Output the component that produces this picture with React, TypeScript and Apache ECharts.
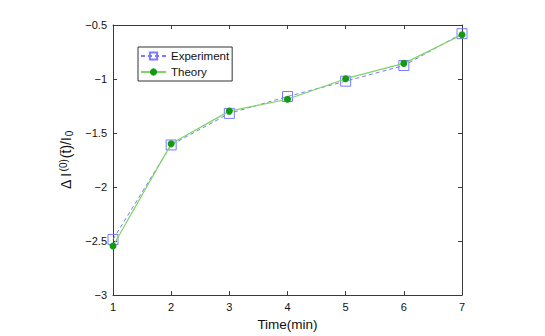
import React, { useEffect, useRef } from "react";
import * as echarts from "echarts";

const xValues = [1, 2, 3, 4, 5, 6, 7];
const experiment = [-2.485, -1.61, -1.318, -1.162, -1.02, -0.875, -0.58];
const theory = [-2.545, -1.6, -1.297, -1.187, -0.997, -0.855, -0.59];
const seriesNames = ["Experiment", "Theory"];

const FONT = "Liberation Sans, Arial, Helvetica, sans-serif";
const AXIS = "#3a3a3a";
const minus = (v: number) => String(v).replace("-", "\u2212");

export default function App() {
  const ref = useRef<HTMLDivElement>(null);
  useEffect(() => {
    if (!ref.current) return;
    const chart = echarts.init(ref.current, null, { renderer: "svg" });
    const axisCommon = {
      axisLine: { show: true, lineStyle: { color: AXIS, width: 1 } },
      axisTick: { show: true, inside: true, length: 4, lineStyle: { color: AXIS } },
      splitLine: { show: false },
    };
    chart.setOption({
      animation: false,
      backgroundColor: "#ffffff",
      textStyle: { fontFamily: FONT },
      grid: { left: 113, right: 83, top: 25, bottom: 38, containLabel: false },
      legend: {
        data: seriesNames,
        orient: "vertical",
        left: 138,
        top: 47,
        backgroundColor: "#ffffff",
        borderColor: "#333333",
        borderWidth: 1,
        borderRadius: 0,
        padding: [3, 3, 3, 2],
        itemGap: 4,
        itemWidth: 25,
        itemHeight: 9,
        textStyle: { fontFamily: FONT, fontSize: 11.5, color: "#111" },
      },
      xAxis: [
        {
          type: "value",
          min: 1,
          max: 7,
          interval: 1,
          name: "Time(min)",
          nameLocation: "middle",
          nameGap: 14,
          nameTextStyle: { fontFamily: FONT, fontSize: 13.5, color: "#111" },
          axisLabel: { fontFamily: FONT, fontSize: 11, color: "#111", margin: 6, formatter: (v: number) => minus(v) },
          ...axisCommon,
        },
        {
          type: "value",
          min: 1,
          max: 7,
          interval: 1,
          position: "top",
          axisLabel: { show: false },
          ...axisCommon,
        },
      ],
      yAxis: [
        {
          type: "value",
          min: -3,
          max: -0.5,
          interval: 0.5,
          name: "Δ I{sup|(0)}(t\u0304)/I{sub|0}",
          nameLocation: "middle",
          nameRotate: 90,
          nameGap: 33,
          nameTextStyle: {
            fontFamily: FONT,
            fontSize: 14,
            color: "#111",
            rich: {
              sup: { fontFamily: FONT, fontSize: 10, color: "#111", verticalAlign: "top", padding: [0, 1, 6, 1] },
              sub: { fontFamily: FONT, fontSize: 10, color: "#111", verticalAlign: "bottom", padding: [6, 0, 0, 1] },
            },
          },
          axisLabel: { fontFamily: FONT, fontSize: 11, color: "#111", margin: 6, formatter: (v: number) => minus(v) },
          ...axisCommon,
        },
        {
          type: "value",
          min: -3,
          max: -0.5,
          interval: 0.5,
          position: "right",
          axisLabel: { show: false },
          ...axisCommon,
        },
      ],
      series: [
        {
          name: seriesNames[0],
          type: "line",
          data: xValues.map((x, i) => [x, experiment[i]]),
          symbol: "rect",
          symbolSize: 10,
          showSymbol: true,
          itemStyle: { color: "rgba(255,255,255,0)", borderColor: "#7a7aff", borderWidth: 1 },
          lineStyle: { color: "#7a7aff", width: 1, type: [4, 3] },
          z: 2,
        },
        {
          name: seriesNames[1],
          type: "line",
          data: xValues.map((x, i) => [x, theory[i]]),
          symbol: "circle",
          symbolSize: 7,
          itemStyle: { color: "#139a13", borderWidth: 0 },
          lineStyle: { color: "#7fd463", width: 1.2, type: "solid" },
          z: 3,
        },
      ],
    });
    return () => chart.dispose();
  }, []);
  return (
    <div
      ref={ref}
      style={{ position: "fixed", left: 0, top: 0, width: 545, height: 336, background: "#fff" }}
    />
  );
}
